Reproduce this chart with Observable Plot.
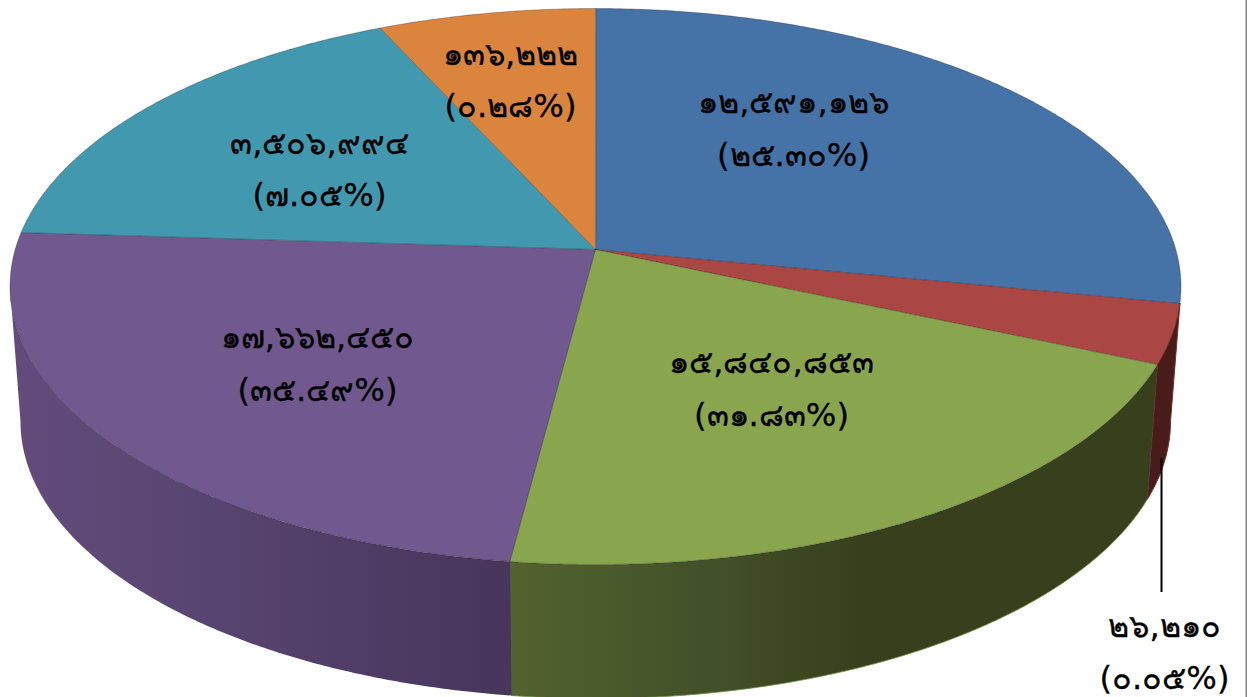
<!DOCTYPE html>
<html><head><meta charset="utf-8">
<script src="https://cdn.jsdelivr.net/npm/d3@7"></script>
<script src="https://cdn.jsdelivr.net/npm/@observablehq/plot@0.6"></script>
<style>html,body{margin:0;padding:0;background:#fff;overflow:hidden}svg{display:block}</style>
</head><body><div id="chart"></div>
<script>
// Slices, clockwise from 12 o'clock
const sliceNames = ["blue", "red", "green", "purple", "teal", "orange"];
// printed labels
const valueLabels = ["๑๒,๕๙๑,๑๒๖", "๒๖,๒๑๐", "๑๕,๘๔๐,๘๕๓", "๑๗,๖๖๒,๔๕๐", "๓,๕๐๖,๙๙๔", "๑๓๖,๒๒๒"];
const percentLabels = ["(๒๕.๓๐%)", "(๐.๐๕%)", "(๓๑.๘๓%)", "(๓๕.๔๙%)", "(๗.๐๕%)", "(๐.๒๘%)"];
// sweep of each slice as drawn in the picture (degrees on the ellipse)
const drawnSweep = [93.5, 12.8, 82.1, 92.8, 57.2, 21.6];

const faceColors = ["#4572A7", "#AA4643", "#89A54E", "#71588F", "#4198AF", "#DB843D"];
const topRim = {cx: 595, cy: 286, rx: 585.5, ry: 278};
const bottomRim = {cx: 595, cy: 421, rx: 575, ry: 277};
const apex = {x: 595, y: 249};
const labelAt = [[793, 102, 155], [1164, 626, 678], [771, 362, 415], [317, 337, 390], [319, 143, 195], [510, 54, 106]];

const pt = (rim, deg) => ({x: rim.cx + rim.rx * Math.cos(deg * Math.PI / 180), y: rim.cy + rim.ry * Math.sin(deg * Math.PI / 180)});
const arc = (rim, a, b) => { const n = Math.max(2, Math.ceil(Math.abs(b - a)) * 2); return d3.range(n + 1).map(i => pt(rim, a + (b - a) * i / n)); };

let start = -90;
const bounds = drawnSweep.map(s => { const r = [start, start + s]; start += s; return r; });

const faces = sliceNames.flatMap((name, i) => [apex, ...arc(topRim, bounds[i][0], bounds[i][1])].map(p => ({...p, name, color: faceColors[i]})));

// the purple wall runs a little under the green one so no seam shows between them
const purpleWall = [...arc(topRim, 180, bounds[3][0] - 0.5), ...arc(bottomRim, bounds[3][0] - 0.5, 180)];
const greenWall = [...arc(topRim, bounds[2][1], bounds[2][0]), ...arc(bottomRim, bounds[2][0], bounds[2][1])];
const redWall = [...arc(topRim, bounds[1][0], bounds[1][1]), ...arc(bottomRim, bounds[1][1], 0)];
const greenEdge = arc(bottomRim, bounds[2][0], bounds[2][1]);

const labels = valueLabels.flatMap((t, i) => [{text: t, x: labelAt[i][0], y: labelAt[i][1]}, {text: percentLabels[i], x: labelAt[i][0], y: labelAt[i][2]}]);

// wall shading stops: [fraction across the wall, colour]
const purpleStops = [[0, "#634c7c"], [0.4, "#584470"], [0.75, "#4e3b64"], [1, "#47355b"]];
const greenStops = [[0, "#53622e"], [0.3, "#43512a"], [0.55, "#383f1c"], [1, "#373f1d"]];
const gradients = () => {
  const defs = d3.create("svg:defs");
  for (const [id, stops] of [["purpleWall", purpleStops], ["greenWall", greenStops]]) {
    const g = defs.append("linearGradient").attr("id", id).attr("x1", 0).attr("x2", 1).attr("y1", 0).attr("y2", 0);
    for (const [o, c] of stops) g.append("stop").attr("offset", o).attr("stop-color", c);
  }
  return defs.node();
};

const chart = Plot.plot({
  width: 1247, height: 697, margin: 0,
  style: {background: "#fff"},
  x: {domain: [0, 1247], range: [0, 1247], axis: null},
  y: {domain: [0, 697], range: [0, 697], axis: null},
  marks: [
    gradients,
    Plot.line(redWall, {x: "x", y: "y", curve: "linear-closed", fill: "#481c1a", stroke: "#7a2c2a", strokeWidth: 1}),
    Plot.line(purpleWall, {x: "x", y: "y", curve: "linear-closed", fill: "url(#purpleWall)", stroke: "none"}),
    Plot.line(greenWall, {x: "x", y: "y", curve: "linear-closed", fill: "url(#greenWall)", stroke: "none"}),
    Plot.line(greenEdge, {x: "x", y: "y", stroke: "#6f8a40", strokeWidth: 1, strokeOpacity: 0.8}),
    Plot.line(faces, {x: "x", y: "y", z: "name", curve: "linear-closed", fill: {value: "color", scale: null}, stroke: "#000", strokeOpacity: 0.25, strokeWidth: 1}),
    Plot.ruleX([1246], {stroke: "#808080", strokeWidth: 2}),
    Plot.ruleX([1161], {y1: 458, y2: 592, stroke: "#000", strokeWidth: 2}),
    Plot.text(labels, {x: "x", y: "y", text: "text", fill: "#000", stroke: "#000", strokeWidth: 0.3, fontSize: 32.2, fontFamily: "'DejaVu Sans', 'Noto Sans', sans-serif", textAnchor: "middle", lineAnchor: "middle"})
  ]
});
document.getElementById("chart").append(chart);
</script></body></html>
